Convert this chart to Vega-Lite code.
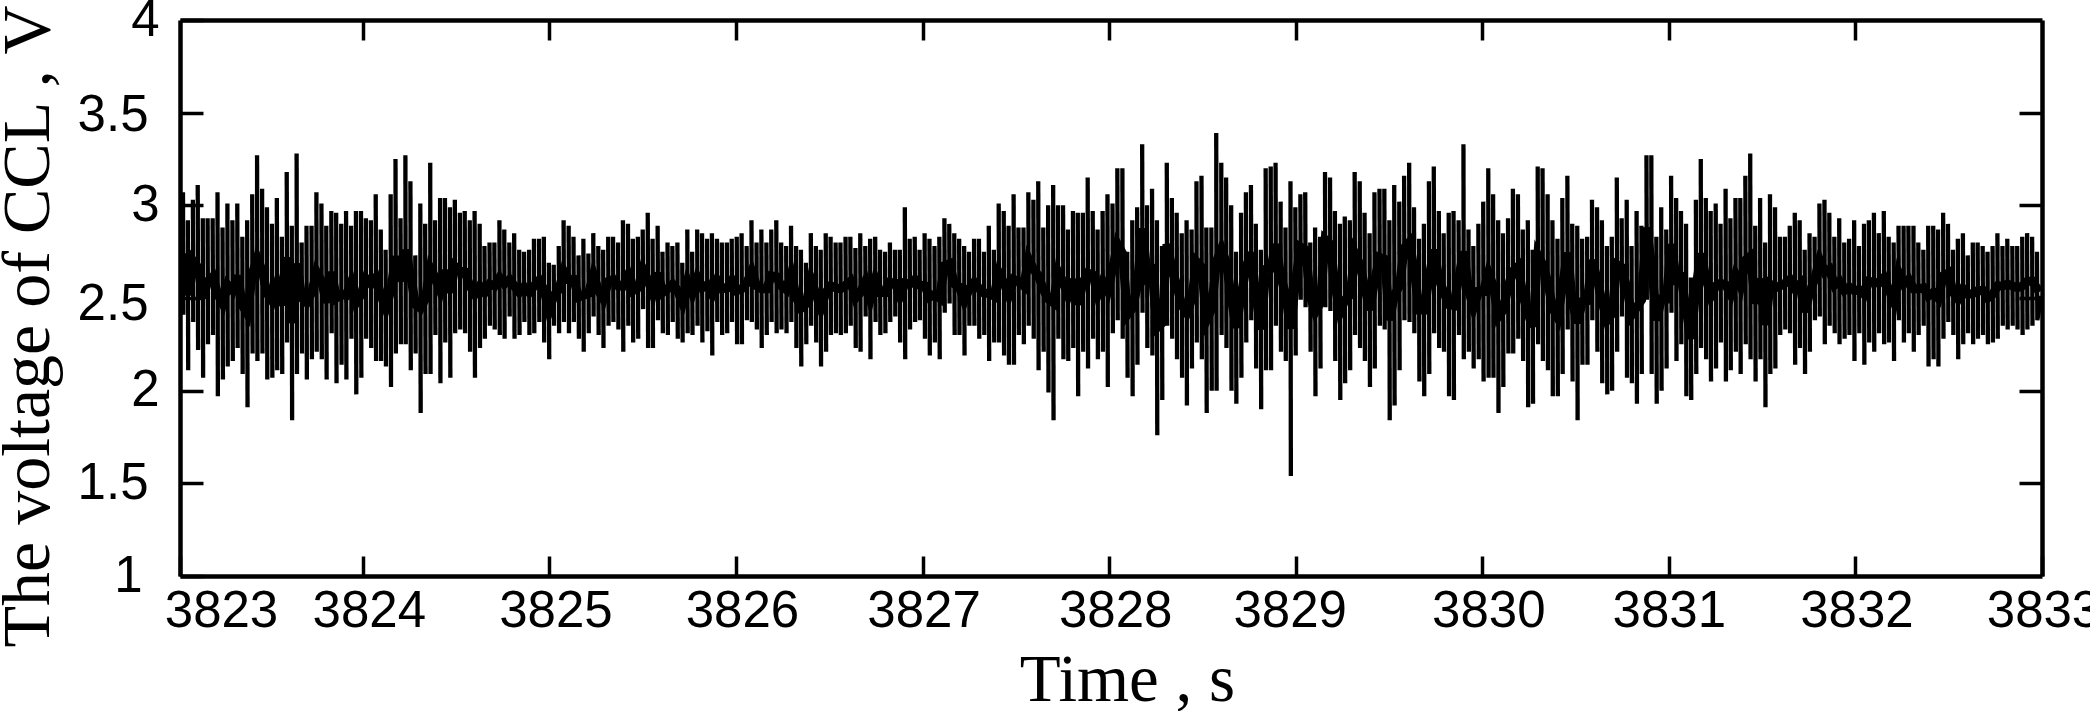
{
"$schema":"https://vega.github.io/schema/vega-lite/v6.json",
"width":1862,
"height":556,
"autosize":"none",
"padding":{"left":180,"top":20,"right":48,"bottom":135},
"background":"white",
"config":{"view":{"stroke":null},"axis":{"grid":false,"domainColor":"black","domainWidth":4.5,"tickColor":"black","tickWidth":3.5,"labelColor":"black","titleColor":"black"}},
"resolve":{"axis":{"x":"independent","y":"independent"}},
"data":{"values":[
{"t":3823.036,"v":3.07},{"t":3823.038,"v":2.41},{"t":3823.062,"v":2.92},{"t":3823.064,"v":2.11},{"t":3823.089,"v":3.03},{"t":3823.091,"v":2.37},{"t":3823.115,"v":3.11},{"t":3823.117,"v":2.22},{"t":3823.142,"v":2.93},{"t":3823.144,"v":2.07},{"t":3823.168,"v":2.93},{"t":3823.170,"v":2.25},{"t":3823.195,"v":2.93},{"t":3823.197,"v":2.30},{"t":3823.221,"v":3.07},{"t":3823.223,"v":1.97},{"t":3823.248,"v":2.88},{"t":3823.250,"v":2.06},{"t":3823.274,"v":3.01},{"t":3823.276,"v":2.13},
{"t":3823.301,"v":2.92},{"t":3823.303,"v":2.16},{"t":3823.327,"v":3.01},{"t":3823.329,"v":2.23},{"t":3823.354,"v":2.83},{"t":3823.356,"v":2.09},{"t":3823.380,"v":2.92},{"t":3823.382,"v":1.91},{"t":3823.407,"v":3.06},{"t":3823.409,"v":2.20},{"t":3823.433,"v":3.27},{"t":3823.435,"v":2.16},{"t":3823.460,"v":3.09},{"t":3823.462,"v":2.20},{"t":3823.486,"v":2.99},{"t":3823.488,"v":2.06},{"t":3823.513,"v":2.90},{"t":3823.515,"v":2.07},{"t":3823.539,"v":3.04},{"t":3823.541,"v":2.11},
{"t":3823.566,"v":2.83},{"t":3823.568,"v":2.09},{"t":3823.592,"v":3.18},{"t":3823.594,"v":2.26},{"t":3823.619,"v":2.89},{"t":3823.621,"v":1.84},{"t":3823.645,"v":3.28},{"t":3823.647,"v":2.09},{"t":3823.672,"v":2.80},{"t":3823.674,"v":2.20},{"t":3823.698,"v":2.89},{"t":3823.700,"v":2.06},{"t":3823.725,"v":2.89},{"t":3823.727,"v":2.17},{"t":3823.751,"v":3.07},{"t":3823.753,"v":2.21},{"t":3823.778,"v":3.01},{"t":3823.780,"v":2.17},{"t":3823.804,"v":2.89},{"t":3823.806,"v":2.06},
{"t":3823.831,"v":2.97},{"t":3823.833,"v":2.31},{"t":3823.857,"v":2.96},{"t":3823.859,"v":2.04},{"t":3823.884,"v":2.90},{"t":3823.886,"v":2.14},{"t":3823.910,"v":2.97},{"t":3823.912,"v":2.06},{"t":3823.937,"v":2.89},{"t":3823.939,"v":2.28},{"t":3823.963,"v":2.97},{"t":3823.965,"v":1.98},{"t":3823.990,"v":2.97},{"t":3823.992,"v":2.07},{"t":3824.016,"v":2.93},{"t":3824.018,"v":2.28},{"t":3824.043,"v":2.92},{"t":3824.045,"v":2.23},{"t":3824.069,"v":3.06},{"t":3824.071,"v":2.16},
{"t":3824.096,"v":2.87},{"t":3824.098,"v":2.16},{"t":3824.122,"v":2.76},{"t":3824.124,"v":2.13},{"t":3824.149,"v":3.06},{"t":3824.151,"v":2.02},{"t":3824.175,"v":3.25},{"t":3824.177,"v":2.20},{"t":3824.202,"v":2.93},{"t":3824.204,"v":2.25},{"t":3824.228,"v":3.27},{"t":3824.230,"v":2.25},{"t":3824.255,"v":3.13},{"t":3824.257,"v":2.11},{"t":3824.281,"v":2.73},{"t":3824.283,"v":2.20},{"t":3824.308,"v":3.01},{"t":3824.310,"v":1.88},{"t":3824.334,"v":2.90},{"t":3824.336,"v":2.09},
{"t":3824.361,"v":3.23},{"t":3824.363,"v":2.09},{"t":3824.387,"v":2.92},{"t":3824.389,"v":2.30},{"t":3824.414,"v":3.04},{"t":3824.416,"v":2.04},{"t":3824.440,"v":3.04},{"t":3824.442,"v":2.26},{"t":3824.467,"v":2.99},{"t":3824.469,"v":2.07},{"t":3824.493,"v":3.03},{"t":3824.495,"v":2.31},{"t":3824.520,"v":2.96},{"t":3824.522,"v":2.33},{"t":3824.546,"v":2.97},{"t":3824.548,"v":2.31},{"t":3824.573,"v":2.92},{"t":3824.575,"v":2.21},{"t":3824.599,"v":2.97},{"t":3824.601,"v":2.07},
{"t":3824.626,"v":2.90},{"t":3824.628,"v":2.23},{"t":3824.652,"v":2.78},{"t":3824.654,"v":2.28},{"t":3824.679,"v":2.80},{"t":3824.681,"v":2.35},{"t":3824.705,"v":2.80},{"t":3824.707,"v":2.33},{"t":3824.732,"v":2.92},{"t":3824.734,"v":2.30},{"t":3824.758,"v":2.87},{"t":3824.760,"v":2.28},{"t":3824.785,"v":2.80},{"t":3824.787,"v":2.40},{"t":3824.811,"v":2.85},{"t":3824.813,"v":2.28},{"t":3824.838,"v":2.76},{"t":3824.840,"v":2.30},{"t":3824.864,"v":2.75},{"t":3824.866,"v":2.37},
{"t":3824.891,"v":2.76},{"t":3824.893,"v":2.30},{"t":3824.917,"v":2.82},{"t":3824.919,"v":2.31},{"t":3824.944,"v":2.82},{"t":3824.946,"v":2.37},{"t":3824.970,"v":2.83},{"t":3824.972,"v":2.26},{"t":3824.997,"v":2.69},{"t":3824.999,"v":2.17},{"t":3825.023,"v":2.68},{"t":3825.025,"v":2.35},{"t":3825.050,"v":2.78},{"t":3825.052,"v":2.31},{"t":3825.076,"v":2.92},{"t":3825.078,"v":2.37},{"t":3825.103,"v":2.89},{"t":3825.105,"v":2.31},{"t":3825.129,"v":2.83},{"t":3825.131,"v":2.37},
{"t":3825.156,"v":2.73},{"t":3825.158,"v":2.28},{"t":3825.182,"v":2.82},{"t":3825.184,"v":2.21},{"t":3825.209,"v":2.74},{"t":3825.211,"v":2.31},{"t":3825.235,"v":2.85},{"t":3825.237,"v":2.40},{"t":3825.262,"v":2.78},{"t":3825.264,"v":2.30},{"t":3825.288,"v":2.76},{"t":3825.290,"v":2.23},{"t":3825.315,"v":2.83},{"t":3825.317,"v":2.35},{"t":3825.341,"v":2.83},{"t":3825.343,"v":2.37},{"t":3825.368,"v":2.80},{"t":3825.370,"v":2.33},{"t":3825.394,"v":2.92},{"t":3825.396,"v":2.21},
{"t":3825.421,"v":2.90},{"t":3825.423,"v":2.35},{"t":3825.447,"v":2.82},{"t":3825.449,"v":2.26},{"t":3825.474,"v":2.83},{"t":3825.476,"v":2.28},{"t":3825.500,"v":2.87},{"t":3825.502,"v":2.44},{"t":3825.527,"v":2.96},{"t":3825.529,"v":2.23},{"t":3825.553,"v":2.82},{"t":3825.555,"v":2.23},{"t":3825.580,"v":2.89},{"t":3825.582,"v":2.38},{"t":3825.606,"v":2.75},{"t":3825.608,"v":2.31},{"t":3825.633,"v":2.80},{"t":3825.635,"v":2.30},{"t":3825.659,"v":2.78},{"t":3825.661,"v":2.37},
{"t":3825.686,"v":2.80},{"t":3825.688,"v":2.28},{"t":3825.712,"v":2.69},{"t":3825.714,"v":2.26},{"t":3825.739,"v":2.87},{"t":3825.741,"v":2.31},{"t":3825.765,"v":2.75},{"t":3825.767,"v":2.30},{"t":3825.792,"v":2.87},{"t":3825.794,"v":2.35},{"t":3825.818,"v":2.85},{"t":3825.820,"v":2.26},{"t":3825.845,"v":2.82},{"t":3825.847,"v":2.32},{"t":3825.871,"v":2.85},{"t":3825.873,"v":2.19},{"t":3825.898,"v":2.82},{"t":3825.900,"v":2.37},{"t":3825.924,"v":2.80},{"t":3825.926,"v":2.30},
{"t":3825.951,"v":2.80},{"t":3825.953,"v":2.31},{"t":3825.977,"v":2.82},{"t":3825.979,"v":2.37},{"t":3826.004,"v":2.83},{"t":3826.006,"v":2.25},{"t":3826.030,"v":2.85},{"t":3826.032,"v":2.25},{"t":3826.057,"v":2.78},{"t":3826.059,"v":2.38},{"t":3826.083,"v":2.92},{"t":3826.085,"v":2.37},{"t":3826.110,"v":2.80},{"t":3826.112,"v":2.33},{"t":3826.136,"v":2.87},{"t":3826.138,"v":2.23},{"t":3826.163,"v":2.80},{"t":3826.165,"v":2.30},{"t":3826.189,"v":2.87},{"t":3826.191,"v":2.37},
{"t":3826.216,"v":2.92},{"t":3826.218,"v":2.31},{"t":3826.242,"v":2.80},{"t":3826.244,"v":2.33},{"t":3826.269,"v":2.78},{"t":3826.271,"v":2.31},{"t":3826.295,"v":2.89},{"t":3826.297,"v":2.37},{"t":3826.322,"v":2.78},{"t":3826.324,"v":2.23},{"t":3826.348,"v":2.76},{"t":3826.350,"v":2.13},{"t":3826.375,"v":2.69},{"t":3826.377,"v":2.25},{"t":3826.401,"v":2.85},{"t":3826.403,"v":2.35},{"t":3826.428,"v":2.78},{"t":3826.430,"v":2.26},{"t":3826.454,"v":2.76},{"t":3826.456,"v":2.13},
{"t":3826.481,"v":2.85},{"t":3826.483,"v":2.21},{"t":3826.507,"v":2.83},{"t":3826.509,"v":2.30},{"t":3826.534,"v":2.80},{"t":3826.536,"v":2.31},{"t":3826.560,"v":2.80},{"t":3826.562,"v":2.30},{"t":3826.587,"v":2.83},{"t":3826.589,"v":2.31},{"t":3826.613,"v":2.83},{"t":3826.615,"v":2.35},{"t":3826.640,"v":2.77},{"t":3826.642,"v":2.23},{"t":3826.666,"v":2.85},{"t":3826.668,"v":2.21},{"t":3826.693,"v":2.78},{"t":3826.695,"v":2.40},{"t":3826.719,"v":2.82},{"t":3826.721,"v":2.17},
{"t":3826.746,"v":2.83},{"t":3826.748,"v":2.37},{"t":3826.772,"v":2.76},{"t":3826.774,"v":2.30},{"t":3826.799,"v":2.75},{"t":3826.801,"v":2.31},{"t":3826.825,"v":2.80},{"t":3826.827,"v":2.37},{"t":3826.852,"v":2.76},{"t":3826.854,"v":2.40},{"t":3826.878,"v":2.76},{"t":3826.880,"v":2.26},{"t":3826.905,"v":2.99},{"t":3826.907,"v":2.17},{"t":3826.931,"v":2.82},{"t":3826.933,"v":2.33},{"t":3826.958,"v":2.83},{"t":3826.960,"v":2.37},{"t":3826.984,"v":2.76},{"t":3826.986,"v":2.38},
{"t":3827.011,"v":2.85},{"t":3827.013,"v":2.28},{"t":3827.037,"v":2.82},{"t":3827.039,"v":2.19},{"t":3827.064,"v":2.78},{"t":3827.066,"v":2.26},{"t":3827.090,"v":2.83},{"t":3827.092,"v":2.17},{"t":3827.117,"v":2.93},{"t":3827.119,"v":2.42},{"t":3827.143,"v":2.90},{"t":3827.145,"v":2.47},{"t":3827.170,"v":2.85},{"t":3827.172,"v":2.30},{"t":3827.196,"v":2.82},{"t":3827.198,"v":2.30},{"t":3827.223,"v":2.78},{"t":3827.225,"v":2.19},{"t":3827.249,"v":2.75},{"t":3827.251,"v":2.35},
{"t":3827.276,"v":2.82},{"t":3827.278,"v":2.35},{"t":3827.302,"v":2.82},{"t":3827.304,"v":2.28},{"t":3827.329,"v":2.75},{"t":3827.331,"v":2.30},{"t":3827.355,"v":2.89},{"t":3827.357,"v":2.16},{"t":3827.382,"v":2.76},{"t":3827.384,"v":2.26},{"t":3827.408,"v":3.01},{"t":3827.410,"v":2.26},{"t":3827.435,"v":2.97},{"t":3827.437,"v":2.19},{"t":3827.461,"v":2.89},{"t":3827.463,"v":2.14},{"t":3827.488,"v":3.06},{"t":3827.490,"v":2.14},{"t":3827.514,"v":2.88},{"t":3827.516,"v":2.30},
{"t":3827.541,"v":2.88},{"t":3827.543,"v":2.25},{"t":3827.567,"v":3.07},{"t":3827.569,"v":2.35},{"t":3827.594,"v":3.03},{"t":3827.596,"v":2.28},{"t":3827.620,"v":3.13},{"t":3827.622,"v":2.11},{"t":3827.647,"v":2.88},{"t":3827.649,"v":2.21},{"t":3827.673,"v":3.00},{"t":3827.675,"v":1.99},{"t":3827.700,"v":3.11},{"t":3827.702,"v":1.84},{"t":3827.726,"v":3.00},{"t":3827.728,"v":2.28},{"t":3827.753,"v":3.00},{"t":3827.755,"v":2.17},{"t":3827.779,"v":2.87},{"t":3827.781,"v":2.16},
{"t":3827.806,"v":2.97},{"t":3827.808,"v":2.23},{"t":3827.832,"v":2.96},{"t":3827.834,"v":1.97},{"t":3827.859,"v":2.96},{"t":3827.861,"v":2.21},{"t":3827.885,"v":3.15},{"t":3827.887,"v":2.12},{"t":3827.912,"v":2.97},{"t":3827.914,"v":2.28},{"t":3827.938,"v":2.87},{"t":3827.940,"v":2.17},{"t":3827.965,"v":2.97},{"t":3827.967,"v":2.21},{"t":3827.991,"v":3.06},{"t":3827.993,"v":2.02},{"t":3828.018,"v":3.01},{"t":3828.020,"v":2.31},{"t":3828.044,"v":3.20},{"t":3828.046,"v":2.38},
{"t":3828.071,"v":3.20},{"t":3828.073,"v":2.28},{"t":3828.097,"v":2.75},{"t":3828.099,"v":2.07},{"t":3828.124,"v":2.92},{"t":3828.126,"v":1.97},{"t":3828.150,"v":2.99},{"t":3828.152,"v":2.14},{"t":3828.177,"v":3.33},{"t":3828.179,"v":2.42},{"t":3828.203,"v":3.00},{"t":3828.205,"v":2.23},{"t":3828.230,"v":3.09},{"t":3828.232,"v":2.19},{"t":3828.256,"v":2.92},{"t":3828.258,"v":1.76},{"t":3828.283,"v":2.78},{"t":3828.285,"v":1.95},{"t":3828.309,"v":3.23},{"t":3828.311,"v":2.35},
{"t":3828.336,"v":3.04},{"t":3828.338,"v":2.28},{"t":3828.362,"v":2.96},{"t":3828.364,"v":2.17},{"t":3828.389,"v":2.85},{"t":3828.391,"v":2.07},{"t":3828.415,"v":2.92},{"t":3828.417,"v":1.92},{"t":3828.442,"v":2.87},{"t":3828.444,"v":2.12},{"t":3828.468,"v":3.13},{"t":3828.470,"v":2.26},{"t":3828.495,"v":3.16},{"t":3828.497,"v":2.17},{"t":3828.521,"v":2.88},{"t":3828.523,"v":1.88},{"t":3828.548,"v":2.88},{"t":3828.550,"v":2.00},{"t":3828.574,"v":3.39},{"t":3828.576,"v":2.00},
{"t":3828.601,"v":3.23},{"t":3828.603,"v":2.30},{"t":3828.627,"v":3.15},{"t":3828.629,"v":2.23},{"t":3828.654,"v":3.00},{"t":3828.656,"v":2.00},{"t":3828.680,"v":2.75},{"t":3828.682,"v":1.93},{"t":3828.707,"v":2.96},{"t":3828.709,"v":2.07},{"t":3828.733,"v":3.07},{"t":3828.735,"v":2.26},{"t":3828.760,"v":3.11},{"t":3828.762,"v":2.38},{"t":3828.786,"v":2.90},{"t":3828.788,"v":2.12},{"t":3828.813,"v":2.76},{"t":3828.815,"v":1.90},{"t":3828.839,"v":3.20},{"t":3828.841,"v":2.11},
{"t":3828.866,"v":3.21},{"t":3828.868,"v":2.11},{"t":3828.892,"v":3.23},{"t":3828.894,"v":2.35},{"t":3828.919,"v":3.02},{"t":3828.921,"v":2.21},{"t":3828.945,"v":2.88},{"t":3828.947,"v":2.16},{"t":3828.972,"v":3.13},{"t":3828.974,"v":1.54},{"t":3828.998,"v":2.99},{"t":3829.000,"v":2.19},{"t":3829.025,"v":3.06},{"t":3829.027,"v":2.49},{"t":3829.051,"v":3.07},{"t":3829.053,"v":2.45},{"t":3829.078,"v":2.80},{"t":3829.080,"v":2.21},{"t":3829.104,"v":2.88},{"t":3829.106,"v":1.97},
{"t":3829.131,"v":2.83},{"t":3829.133,"v":2.12},{"t":3829.157,"v":3.18},{"t":3829.159,"v":2.45},{"t":3829.184,"v":3.15},{"t":3829.186,"v":2.43},{"t":3829.210,"v":2.97},{"t":3829.212,"v":2.16},{"t":3829.237,"v":2.90},{"t":3829.239,"v":1.95},{"t":3829.263,"v":2.94},{"t":3829.265,"v":2.04},{"t":3829.290,"v":2.92},{"t":3829.292,"v":2.11},{"t":3829.316,"v":3.18},{"t":3829.318,"v":2.30},{"t":3829.343,"v":3.13},{"t":3829.345,"v":2.23},{"t":3829.369,"v":2.96},{"t":3829.371,"v":2.16},
{"t":3829.396,"v":2.85},{"t":3829.398,"v":2.02},{"t":3829.422,"v":3.07},{"t":3829.424,"v":2.12},{"t":3829.449,"v":3.09},{"t":3829.451,"v":2.35},{"t":3829.475,"v":3.09},{"t":3829.477,"v":2.33},{"t":3829.502,"v":2.92},{"t":3829.504,"v":1.84},{"t":3829.528,"v":3.11},{"t":3829.530,"v":1.92},{"t":3829.555,"v":3.02},{"t":3829.557,"v":2.11},{"t":3829.581,"v":3.16},{"t":3829.583,"v":2.38},{"t":3829.608,"v":3.23},{"t":3829.610,"v":2.37},{"t":3829.634,"v":2.99},{"t":3829.636,"v":2.31},
{"t":3829.661,"v":2.82},{"t":3829.663,"v":2.05},{"t":3829.687,"v":2.90},{"t":3829.689,"v":1.97},{"t":3829.714,"v":3.13},{"t":3829.716,"v":2.09},{"t":3829.740,"v":3.21},{"t":3829.742,"v":2.31},{"t":3829.767,"v":2.97},{"t":3829.769,"v":2.23},{"t":3829.793,"v":2.85},{"t":3829.795,"v":2.21},{"t":3829.820,"v":2.96},{"t":3829.822,"v":1.97},{"t":3829.846,"v":2.97},{"t":3829.848,"v":1.95},{"t":3829.873,"v":2.92},{"t":3829.875,"v":2.30},{"t":3829.899,"v":3.33},{"t":3829.901,"v":2.17},
{"t":3829.926,"v":2.87},{"t":3829.928,"v":2.21},{"t":3829.952,"v":2.78},{"t":3829.954,"v":2.12},{"t":3829.979,"v":2.90},{"t":3829.981,"v":2.17},{"t":3830.005,"v":3.02},{"t":3830.007,"v":2.05},{"t":3830.032,"v":3.20},{"t":3830.034,"v":2.07},{"t":3830.058,"v":3.06},{"t":3830.060,"v":2.07},{"t":3830.085,"v":2.92},{"t":3830.087,"v":1.88},{"t":3830.111,"v":2.85},{"t":3830.113,"v":2.02},{"t":3830.138,"v":2.93},{"t":3830.140,"v":2.20},{"t":3830.164,"v":3.09},{"t":3830.166,"v":2.20},
{"t":3830.191,"v":3.06},{"t":3830.193,"v":2.28},{"t":3830.217,"v":2.87},{"t":3830.219,"v":2.16},{"t":3830.244,"v":2.92},{"t":3830.246,"v":1.91},{"t":3830.270,"v":2.76},{"t":3830.272,"v":1.93},{"t":3830.297,"v":3.21},{"t":3830.299,"v":2.25},{"t":3830.323,"v":3.20},{"t":3830.325,"v":2.16},{"t":3830.350,"v":3.06},{"t":3830.352,"v":2.11},{"t":3830.376,"v":2.92},{"t":3830.378,"v":1.97},{"t":3830.403,"v":2.82},{"t":3830.405,"v":1.97},{"t":3830.429,"v":3.04},{"t":3830.431,"v":2.09},
{"t":3830.456,"v":3.16},{"t":3830.458,"v":2.33},{"t":3830.482,"v":2.90},{"t":3830.484,"v":2.05},{"t":3830.509,"v":2.89},{"t":3830.511,"v":1.84},{"t":3830.535,"v":2.82},{"t":3830.537,"v":2.14},{"t":3830.562,"v":2.83},{"t":3830.564,"v":2.14},{"t":3830.588,"v":3.03},{"t":3830.590,"v":2.38},{"t":3830.615,"v":2.99},{"t":3830.617,"v":2.21},{"t":3830.641,"v":2.92},{"t":3830.643,"v":2.04},{"t":3830.668,"v":2.78},{"t":3830.670,"v":1.98},{"t":3830.694,"v":2.83},{"t":3830.696,"v":2.00},
{"t":3830.721,"v":3.15},{"t":3830.723,"v":2.21},{"t":3830.747,"v":2.93},{"t":3830.749,"v":2.40},{"t":3830.774,"v":3.03},{"t":3830.776,"v":2.07},{"t":3830.800,"v":2.78},{"t":3830.802,"v":2.04},{"t":3830.827,"v":2.97},{"t":3830.829,"v":1.93},{"t":3830.853,"v":2.89},{"t":3830.855,"v":2.09},{"t":3830.880,"v":3.27},{"t":3830.882,"v":2.49},{"t":3830.906,"v":3.27},{"t":3830.908,"v":2.09},{"t":3830.933,"v":2.83},{"t":3830.935,"v":1.93},{"t":3830.959,"v":2.99},{"t":3830.961,"v":2.00},
{"t":3830.986,"v":2.87},{"t":3830.988,"v":2.12},{"t":3831.012,"v":3.16},{"t":3831.014,"v":2.42},{"t":3831.039,"v":3.04},{"t":3831.041,"v":2.16},{"t":3831.065,"v":2.97},{"t":3831.067,"v":2.25},{"t":3831.092,"v":2.90},{"t":3831.094,"v":1.97},{"t":3831.118,"v":2.61},{"t":3831.120,"v":1.95},{"t":3831.145,"v":3.03},{"t":3831.147,"v":2.09},{"t":3831.171,"v":3.25},{"t":3831.173,"v":2.23},{"t":3831.198,"v":3.04},{"t":3831.200,"v":2.17},{"t":3831.224,"v":2.97},{"t":3831.226,"v":2.05},
{"t":3831.251,"v":3.01},{"t":3831.253,"v":2.12},{"t":3831.277,"v":2.90},{"t":3831.279,"v":2.26},{"t":3831.304,"v":3.09},{"t":3831.306,"v":2.05},{"t":3831.330,"v":2.93},{"t":3831.332,"v":2.11},{"t":3831.357,"v":3.04},{"t":3831.359,"v":2.21},{"t":3831.383,"v":3.04},{"t":3831.385,"v":2.09},{"t":3831.410,"v":3.16},{"t":3831.412,"v":2.25},{"t":3831.436,"v":3.28},{"t":3831.438,"v":2.17},{"t":3831.463,"v":2.89},{"t":3831.465,"v":2.05},{"t":3831.489,"v":3.04},{"t":3831.491,"v":2.17},
{"t":3831.516,"v":2.80},{"t":3831.518,"v":1.91},{"t":3831.542,"v":3.06},{"t":3831.544,"v":2.09},{"t":3831.569,"v":2.99},{"t":3831.571,"v":2.12},{"t":3831.595,"v":2.83},{"t":3831.597,"v":2.30},{"t":3831.622,"v":2.83},{"t":3831.624,"v":2.33},{"t":3831.648,"v":2.89},{"t":3831.650,"v":2.31},{"t":3831.675,"v":2.96},{"t":3831.677,"v":2.14},{"t":3831.701,"v":2.92},{"t":3831.703,"v":2.23},{"t":3831.728,"v":2.76},{"t":3831.730,"v":2.09},{"t":3831.754,"v":2.85},{"t":3831.756,"v":2.21},
{"t":3831.781,"v":2.83},{"t":3831.783,"v":2.38},{"t":3831.807,"v":3.01},{"t":3831.809,"v":2.40},{"t":3831.834,"v":3.03},{"t":3831.836,"v":2.25},{"t":3831.860,"v":2.96},{"t":3831.862,"v":2.35},{"t":3831.887,"v":2.83},{"t":3831.889,"v":2.31},{"t":3831.913,"v":2.93},{"t":3831.915,"v":2.25},{"t":3831.940,"v":2.80},{"t":3831.942,"v":2.28},{"t":3831.966,"v":2.82},{"t":3831.968,"v":2.30},{"t":3831.993,"v":2.92},{"t":3831.995,"v":2.16},{"t":3832.019,"v":2.78},{"t":3832.021,"v":2.31},
{"t":3832.046,"v":2.90},{"t":3832.048,"v":2.14},{"t":3832.072,"v":2.92},{"t":3832.074,"v":2.26},{"t":3832.099,"v":2.96},{"t":3832.101,"v":2.21},{"t":3832.125,"v":2.85},{"t":3832.127,"v":2.31},{"t":3832.152,"v":2.97},{"t":3832.154,"v":2.25},{"t":3832.178,"v":2.83},{"t":3832.180,"v":2.26},{"t":3832.205,"v":2.80},{"t":3832.207,"v":2.16},{"t":3832.231,"v":2.89},{"t":3832.233,"v":2.38},{"t":3832.258,"v":2.89},{"t":3832.260,"v":2.26},{"t":3832.284,"v":2.89},{"t":3832.286,"v":2.31},
{"t":3832.311,"v":2.89},{"t":3832.313,"v":2.21},{"t":3832.337,"v":2.80},{"t":3832.339,"v":2.30},{"t":3832.364,"v":2.76},{"t":3832.366,"v":2.35},{"t":3832.390,"v":2.89},{"t":3832.392,"v":2.13},{"t":3832.417,"v":2.89},{"t":3832.419,"v":2.17},{"t":3832.443,"v":2.87},{"t":3832.445,"v":2.13},{"t":3832.470,"v":2.96},{"t":3832.472,"v":2.28},{"t":3832.496,"v":2.90},{"t":3832.498,"v":2.37},{"t":3832.523,"v":2.76},{"t":3832.525,"v":2.30},{"t":3832.549,"v":2.82},{"t":3832.551,"v":2.17},
{"t":3832.576,"v":2.85},{"t":3832.578,"v":2.25},{"t":3832.602,"v":2.73},{"t":3832.604,"v":2.31},{"t":3832.629,"v":2.80},{"t":3832.631,"v":2.25},{"t":3832.655,"v":2.80},{"t":3832.657,"v":2.28},{"t":3832.682,"v":2.78},{"t":3832.684,"v":2.30},{"t":3832.708,"v":2.75},{"t":3832.710,"v":2.25},{"t":3832.735,"v":2.78},{"t":3832.737,"v":2.26},{"t":3832.761,"v":2.85},{"t":3832.763,"v":2.28},{"t":3832.788,"v":2.78},{"t":3832.790,"v":2.35},{"t":3832.814,"v":2.82},{"t":3832.816,"v":2.33},
{"t":3832.841,"v":2.78},{"t":3832.843,"v":2.35},{"t":3832.867,"v":2.78},{"t":3832.869,"v":2.33},{"t":3832.894,"v":2.83},{"t":3832.896,"v":2.30},{"t":3832.920,"v":2.85},{"t":3832.922,"v":2.33},{"t":3832.947,"v":2.83},{"t":3832.949,"v":2.35},{"t":3832.973,"v":2.75},{"t":3832.975,"v":2.38},{"t":3832.995,"v":2.5},{"t":3833,"v":2.5}
]},
"layer":[
{"mark":{"type":"line","color":"black","strokeWidth":4.3},
"encoding":{
"detail":{"field":"t","bin":{"step":0.0265,"anchor":3823.03}},
"x":{"field":"t","type":"quantitative","scale":{"domain":[3823.02,3833],"nice":false,"zero":false},
"axis":{"orient":"bottom","title":"Time , s","values":[3823.02,3824,3825,3826,3827,3828,3829,3830,3831,3832,3833],"labelExpr":"floor(datum.value)","labelFont":"Liberation Sans","labelFontSize":51,"labelOverlap":false,"labelBound":false,"labelFlush":false,"tickSize":-20,"labelPadding":30,
"labelOffset":{"condition":[{"test":"datum.value < 3823.5","value":41},{"test":"datum.value == 3827","value":1},{"test":"datum.value == 3829","value":-6},{"test":"datum.value == 3831","value":0},{"test":"datum.value >= 3832","value":1}],"value":6},
"titleFont":"Liberation Serif","titleFontSize":67,"titleFontWeight":"normal","titleBaseline":"alphabetic","titleX":947,"titleY":124}},
"y":{"field":"v","type":"quantitative","scale":{"domain":[1,4],"nice":false,"zero":false},
"axis":{"orient":"left","title":"The voltage of CCL , V","values":[1,1.5,2,2.5,3,3.5,4],"labelExpr":"datum.value","labelFont":"Liberation Sans","labelFontSize":51,"labelOverlap":false,"labelBound":false,"labelFlush":false,"tickSize":-23,
"labelPadding":{"condition":[{"test":"datum.value == 1","value":61},{"test":"datum.value == 2 || datum.value == 3 || datum.value == 4","value":44}],"value":55},
"labelOffset":{"condition":[{"test":"datum.value == 3.5","value":3},{"test":"datum.value == 2.5","value":6}],"value":0},
"titleFont":"Liberation Serif","titleFontSize":68,"titleFontWeight":"normal","titleBaseline":"alphabetic","titleX":-132,"titleY":306}}
}},
{"transform":[
{"bin":{"step":0.0265,"anchor":3823.03},"field":"t","as":"c"},
{"aggregate":[{"op":"mean","field":"t","as":"tm"},{"op":"mean","field":"v","as":"vm"}],"groupby":["c"]}
],
"mark":{"type":"line","color":"black","strokeWidth":9,"clip":true},
"encoding":{
"x":{"field":"tm","type":"quantitative","axis":null},
"y":{"field":"vm","type":"quantitative","axis":null}
}},
{"data":{"values":[{"t":3828,"v":2.5}]},
"mark":{"type":"point","opacity":0},
"encoding":{
"x":{"field":"t","type":"quantitative","axis":{"orient":"top","title":null,"labels":false,"values":[3824,3825,3826,3827,3828,3829,3830,3831,3832],"tickSize":-20}},
"y":{"field":"v","type":"quantitative","axis":{"orient":"right","title":null,"labels":false,"values":[1.5,2,2.5,3,3.5],"tickSize":-23}}
}}
]
}
